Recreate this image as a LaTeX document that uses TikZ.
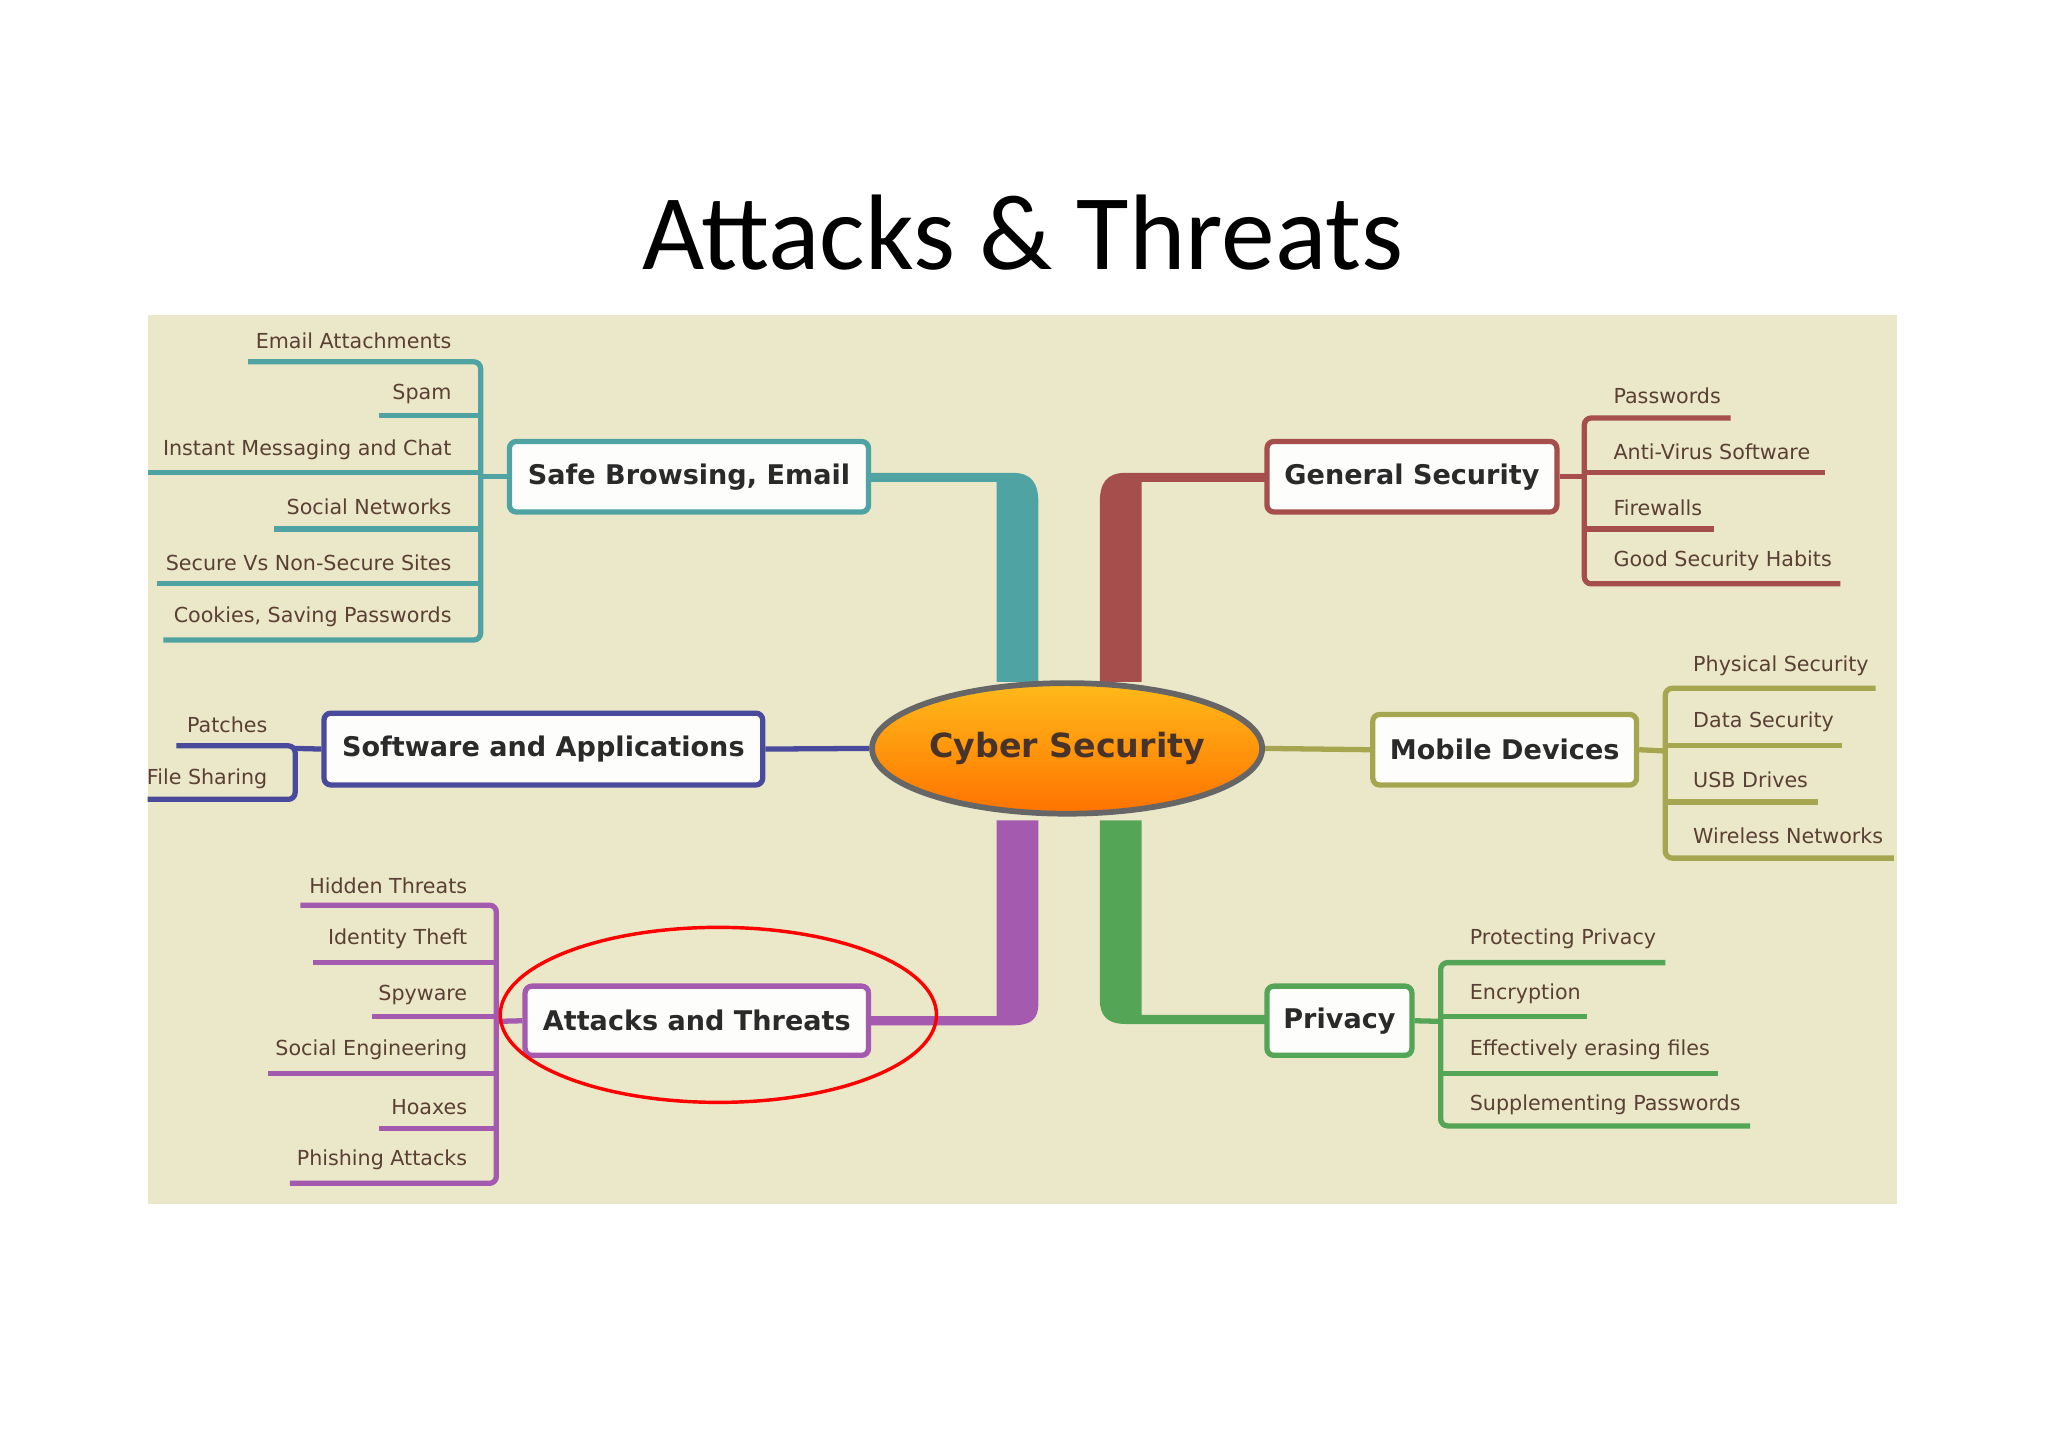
\documentclass[tikz,border=0pt]{standalone}
\usepackage{fontspec}
\usetikzlibrary{shapes.geometric}
\setmainfont{DejaVu Sans}
\newfontfamily\titlefont{Carlito}
\definecolor{bg}{HTML}{EBE8C9}
\definecolor{cteal}{HTML}{4FA3A2}
\definecolor{cred}{HTML}{A54E4C}
\definecolor{cblue}{HTML}{4A4A9C}
\definecolor{colive}{HTML}{A6A650}
\definecolor{cpurp}{HTML}{A45AAE}
\definecolor{cgreen}{HTML}{55A556}
\definecolor{ltxt}{HTML}{5A4034}
\definecolor{btxt}{HTML}{2A2A2A}
\begin{document}
\begin{tikzpicture}[x=0.02cm,y=-0.02cm,
  leaf/.style={font=\fontsize{9}{10}\selectfont,text=ltxt,inner sep=0pt},
  lline/.style={line width=2.3pt,rounded corners=3pt},
  branch/.style={draw,line width=2.3pt,rounded corners=3pt,fill=white!92!bg,font=\bfseries\fontsize{11.8}{13}\selectfont,text=btxt,inner sep=0pt}]
\useasboundingbox (0,0) rectangle (1568,1108);
\fill[white] (0,0) rectangle (1568,1108);
\fill[bg] (113,241) rectangle (1452,922);
\node[font=\titlefont\fontsize{46.8}{54}\selectfont] (title) at (783,178) {Attacks \& Threats};
% trunks
\fill[cteal] (665,362) -- (775,362) .. controls (790,362) and (795,370) .. (795,385) -- (795,522) -- (763,522) -- (763,369) -- (665,369) -- cycle;
\fill[cred] (970,362) -- (862,362) .. controls (847,362) and (842,370) .. (842,385) -- (842,522) -- (874,522) -- (874,369) -- (970,369) -- cycle;
\fill[cpurp] (763,628) -- (795,628) -- (795,768) .. controls (795,780) and (790,785) .. (775,785) -- (665,785) -- (665,778) -- (763,778) -- cycle;
\fill[cgreen] (842,628) -- (874,628) -- (874,777) -- (970,777) -- (970,784) -- (862,784) .. controls (847,784) and (842,777) .. (842,765) -- cycle;
% center
\node[ellipse,draw=gray!80!black,line width=2.5pt,inner sep=0pt,
  top color=orange!60!yellow!90,bottom color=orange!90!red,
  minimum width=5.8cm,minimum height=2cm,font=\bfseries\fontsize{14.5}{16}\selectfont,text=ltxt!80!black] (cs) at (817,573) {Cyber Security};
% boxes
\node[branch,draw=cteal,minimum width=5.5cm,minimum height=1.08cm] (sb) at (527.5,365) {Safe Browsing, Email};
\node[branch,draw=cred,minimum width=4.44cm,minimum height=1.08cm] (gs) at (1081,365) {General Security};
\node[branch,draw=cblue,minimum width=6.72cm,minimum height=1.1cm] (sw) at (416,573.5) {Software and Applications};
\node[branch,draw=colive,minimum width=4.04cm,minimum height=1.08cm] (md) at (1152,574) {Mobile Devices};
\node[branch,draw=cpurp,minimum width=5.26cm,minimum height=1.06cm] (at) at (533.5,781.5) {Attacks and Threats};
\node[branch,draw=cgreen,minimum width=2.22cm,minimum height=1.06cm] (pr) at (1025.5,781.5) {Privacy};
\draw[cblue,line width=2.3pt] (sw.east) -- (cs.west);
\draw[colive,line width=2.3pt] (cs.east) -- (md.west);
% Safe browsing leaves
\draw[cteal,lline] (190,277) -- (368,277) -- (368,490) -- (125,490);
\foreach \a/\y in {290/318,113/362,210/405,120/447} \draw[cteal,lline] (\a,\y) -- (368,\y);
\draw[cteal,line width=2.3pt] (sb.west) -- (368,365);
\node[leaf,anchor=east] (l1) at (346,261) {Email Attachments};
\node[leaf,anchor=east] (l2) at (346,302) {Spam};
\node[leaf,anchor=east] (l3) at (346,344) {Instant Messaging and Chat};
\node[leaf,anchor=east] (l4) at (346,388) {Social Networks};
\node[leaf,anchor=east] (l5) at (346,431) {Secure Vs Non-Secure Sites};
\node[leaf,anchor=east] (l6) at (346,472) {Cookies, Saving Passwords};
% General security leaves
\draw[cred,lline] (1325,320) -- (1213,320) -- (1213,447) -- (1409,447);
\foreach \b/\y in {1397/362,1312/405} \draw[cred,lline] (1213,\y) -- (\b,\y);
\draw[cred,line width=2.3pt] (gs.east) -- (1213,365);
\node[leaf,anchor=west] (g1) at (1235,303) {Passwords};
\node[leaf,anchor=west] (g2) at (1235,346) {Anti-Virus Software};
\node[leaf,anchor=west] (g3) at (1235,389) {Firewalls};
\node[leaf,anchor=west] (g4) at (1235,429) {Good Security Habits};
% Software leaves
\draw[cblue,lline] (135,571) -- (226,571) -- (226,612) -- (113,612);
\draw[cblue,line width=2.3pt] (sw.west) -- (226,573);
\node[leaf,anchor=east] (s1) at (205,555) {Patches};
\node[leaf,anchor=east] (s2) at (205,596) {File Sharing};
% Mobile leaves
\draw[colive,lline] (1436,527) -- (1275,527) -- (1275,657) -- (1450,657);
\foreach \b/\y in {1410/571,1392/614} \draw[colive,lline] (1275,\y) -- (\b,\y);
\draw[colive,line width=2.3pt] (md.east) -- (1275,575);
\node[leaf,anchor=west] (m1) at (1296,510) {Physical Security};
\node[leaf,anchor=west] (m2) at (1296,553) {Data Security};
\node[leaf,anchor=west] (m3) at (1296,597) {USB Drives};
\node[leaf,anchor=west] (m4) at (1296,640) {Wireless Networks};
% Attacks leaves
\draw[cpurp,lline] (230,693) -- (380,693) -- (380,906) -- (222,906);
\foreach \a/\y in {240/737,285/778,205/822,290/864} \draw[cpurp,lline] (\a,\y) -- (380,\y);
\draw[cpurp,line width=2.3pt] (at.west) -- (380,782);
\node[leaf,anchor=east] (a1) at (358,678) {Hidden Threats};
\node[leaf,anchor=east] (a2) at (358,719) {Identity Theft};
\node[leaf,anchor=east] (a3) at (358,762) {Spyware};
\node[leaf,anchor=east] (a4) at (358,804) {Social Engineering};
\node[leaf,anchor=east] (a5) at (358,848) {Hoaxes};
\node[leaf,anchor=east] (a6) at (358,888) {Phishing Attacks};
% Privacy leaves
\draw[cgreen,lline] (1275,737) -- (1103,737) -- (1103,862) -- (1340,862);
\foreach \b/\y in {1215/778,1315/822} \draw[cgreen,lline] (1103,\y) -- (\b,\y);
\draw[cgreen,line width=2.3pt] (pr.east) -- (1103,782);
\node[leaf,anchor=west] (p1) at (1125,719) {Protecting Privacy};
\node[leaf,anchor=west] (p2) at (1125,761) {Encryption};
\node[leaf,anchor=west] (p3) at (1125,804) {Effectively erasing files};
\node[leaf,anchor=west] (p4) at (1125,846) {Supplementing Passwords};
% highlight
\draw[red,line width=1.5pt] (550,777) ellipse [x radius=167,y radius=67];
\end{tikzpicture}
\end{document}
